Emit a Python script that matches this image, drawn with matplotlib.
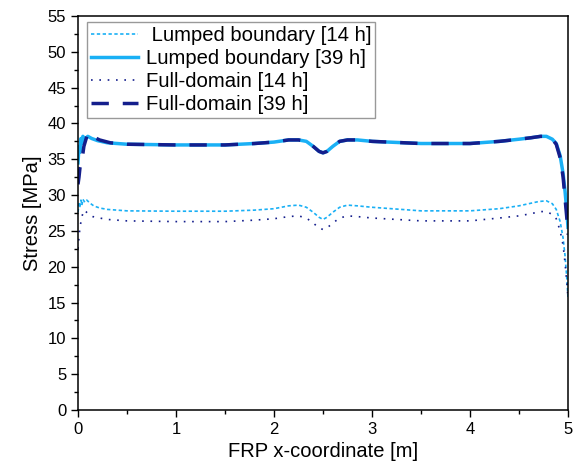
import numpy as np
import matplotlib.pyplot as plt

plt.rcParams['font.family'] = ['Liberation Sans', 'DejaVu Sans']

# x-coordinate [m] and stress [MPa]
x_lb14 = [0.0, 0.01, 0.02, 0.03, 0.04, 0.05, 0.07, 0.09, 0.12, 0.16, 0.22, 0.3, 0.5, 1.0, 1.5,
          1.8, 2.0, 2.15, 2.25, 2.33, 2.4, 2.46, 2.5, 2.54, 2.6, 2.67, 2.75, 2.85, 3.0, 3.5, 4.0,
          4.3, 4.5, 4.6, 4.7, 4.78, 4.84, 4.88, 4.92, 4.95, 4.97, 4.99, 5.0]
y_lb14 = [27.6, 28.8, 28.4, 29.3, 28.6, 29.4, 29.0, 29.3, 28.9, 28.5, 28.2, 28.0, 27.8, 27.75, 27.75,
          27.9, 28.1, 28.5, 28.6, 28.3, 27.6, 26.9, 26.6, 26.9, 27.6, 28.3, 28.6, 28.5, 28.3, 27.8, 27.8,
          28.1, 28.5, 28.8, 29.1, 29.2, 28.8, 28.0, 26.3, 24.0, 21.5, 18.0, 15.6]

x_lb39 = [0.0, 0.01, 0.02, 0.03, 0.04, 0.05, 0.07, 0.1, 0.14, 0.2, 0.3, 0.5, 1.0, 1.5,
          1.8, 2.0, 2.15, 2.25, 2.33, 2.4, 2.46, 2.5, 2.54, 2.6, 2.67, 2.75, 2.85, 3.0, 3.5, 4.0,
          4.3, 4.5, 4.62, 4.72, 4.78, 4.84, 4.88, 4.92, 4.95, 4.97, 4.99, 5.0]
y_lb39 = [34.5, 36.8, 36.0, 37.9, 37.2, 38.2, 37.8, 38.2, 37.9, 37.6, 37.3, 37.1, 37.0, 37.0,
          37.2, 37.4, 37.7, 37.7, 37.5, 36.8, 36.1, 35.9, 36.1, 36.8, 37.5, 37.7, 37.7, 37.5, 37.2, 37.2,
          37.5, 37.8, 38.0, 38.2, 38.2, 37.8, 37.2, 35.5, 33.0, 30.5, 27.5, 25.5]

x_fd14 = [0.0, 0.01, 0.02, 0.04, 0.06, 0.08, 0.11, 0.15, 0.22, 0.3, 0.5, 1.0, 1.5,
          1.8, 2.0, 2.15, 2.25, 2.33, 2.4, 2.46, 2.5, 2.54, 2.6, 2.67, 2.75, 2.85, 3.0, 3.5, 4.0,
          4.3, 4.5, 4.62, 4.72, 4.78, 4.84, 4.88, 4.92, 4.95, 4.97, 4.99, 5.0]
y_fd14 = [22.5, 24.0, 25.5, 27.0, 27.9, 27.7, 27.3, 27.0, 26.8, 26.6, 26.4, 26.3, 26.3,
          26.5, 26.7, 27.0, 27.1, 26.8, 26.1, 25.4, 25.2, 25.4, 26.1, 26.8, 27.1, 27.0, 26.8, 26.4, 26.4,
          26.8, 27.1, 27.4, 27.7, 27.7, 27.3, 26.7, 25.0, 23.0, 20.5, 17.5, 15.6]

x_fd39 = [0.0, 0.01, 0.02, 0.04, 0.06, 0.09, 0.12, 0.16, 0.22, 0.33, 0.5, 1.0, 1.5,
          1.8, 2.0, 2.15, 2.25, 2.33, 2.4, 2.46, 2.5, 2.54, 2.6, 2.67, 2.75, 2.85, 3.0, 3.5, 4.0,
          4.3, 4.5, 4.62, 4.72, 4.78, 4.84, 4.88, 4.92, 4.95, 4.97, 4.99, 5.0]
y_fd39 = [31.5, 32.5, 33.8, 34.8, 36.8, 38.2, 38.7, 38.1, 37.7, 37.3, 37.1, 37.0, 37.0,
          37.2, 37.4, 37.7, 37.7, 37.5, 36.8, 36.1, 35.9, 36.1, 36.8, 37.5, 37.7, 37.7, 37.5, 37.2, 37.2,
          37.5, 37.8, 38.0, 38.2, 38.2, 37.8, 37.1, 35.2, 32.5, 29.5, 26.5, 24.5]

labels = [' Lumped boundary [14 h]', 'Lumped boundary [39 h]', 'Full-domain [14 h]', 'Full-domain [39 h]']

light = '#1ab0f5'
dark = '#141e8c'

fig = plt.figure(figsize=(5.74, 4.75), dpi=100)
ax = fig.add_axes([78 / 574, 1 - 410 / 475, 490 / 574, 394 / 475])

ax.plot(x_lb14, y_lb14, color=light, lw=1.2, ls=(0, (2, 1.5)), label=labels[0])
ax.plot(x_lb39, y_lb39, color=light, lw=2.5, ls='-', label=labels[1])
ax.plot(x_fd14, y_fd14, color=dark, lw=1.2, ls=(0, (1, 4)), label=labels[2])
ax.plot(x_fd39, y_fd39, color=dark, lw=2.5, ls=(0, (5, 4)), label=labels[3])

ax.set_xlim(0, 5)
ax.set_ylim(0, 55)
ax.set_xticks(np.arange(0, 6, 1))
ax.set_yticks(np.arange(0, 60, 5))
ax.set_xticks(np.arange(0.5, 5, 1), minor=True)
ax.set_yticks(np.arange(2.5, 55, 5), minor=True)
ax.tick_params(which='major', direction='out', length=5, width=1, labelsize=12)
ax.tick_params(which='minor', direction='out', length=3, width=1)
for s in ax.spines.values():
    s.set_linewidth(1.1)

ax.set_xlabel('FRP x-coordinate [m]', fontsize=14.5)
ax.set_ylabel('Stress [MPa]', fontsize=14.5)

leg = ax.legend(loc='upper left', bbox_to_anchor=(0.018, 0.985), fontsize=14.6, frameon=True,
                fancybox=False, edgecolor='#999999', framealpha=1, handlelength=2.3,
                handletextpad=0.4, labelspacing=0.2, borderpad=0.2, borderaxespad=0)
leg.get_frame().set_linewidth(1.0)

fig.savefig('out.png', dpi=100)
